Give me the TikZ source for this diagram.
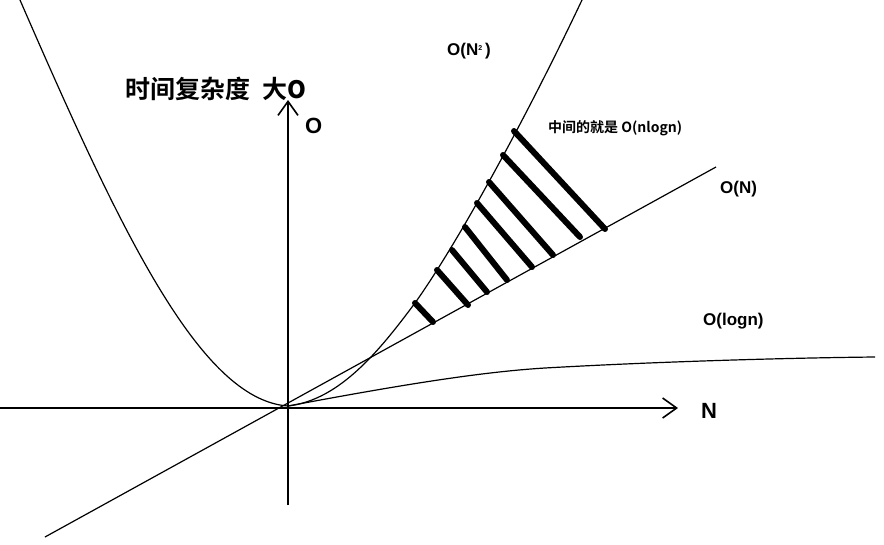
\documentclass[tikz,border=0pt]{standalone}
\usepackage{fontspec}
\setmainfont{Liberation Sans}
\newfontfamily\cjk{Noto Sans CJK SC Bold}
\usetikzlibrary{arrows.meta}
\begin{document}
\begin{tikzpicture}[x=1pt,y=-1pt,
  ax/.style={line width=1.6pt,-{Straight Barb[length=14pt,width=20pt,line width=1.6pt]}},
  cv/.style={line width=1.2pt},
  hatch/.style={line width=6pt,line cap=round},
  lbl/.style={font=\bfseries\fontsize{17}{19}\selectfont,inner sep=0pt}]
\useasboundingbox (0,0) rectangle (884,544);
\coordinate (o) at (288,406);
\coordinate (xl) at (0,408);
\coordinate (xr) at (678,408);
\coordinate (yb) at (288,505);
\coordinate (yt) at (288,100);
\draw[ax] (xl) -- (xr);
\draw[ax] (yb) -- (yt);
\coordinate (la) at (45,537);
\coordinate (lb) at (716,167);
\draw[cv] (la) -- (lb);
% parabola
\draw[cv] (20,0) .. controls (120,230) and (200,400) .. (288,406)
  .. controls (340,400) and (380,350) .. (415,303)
  .. controls (460,240) and (530,110) .. (582,0);
% log
\draw[cv] (o) .. controls (400,385) and (480,372) .. (545,368)
  .. controls (650,362) and (780,358) .. (875,357);
% hatches
\draw[hatch] (514,131) -- (605,229);
\draw[hatch] (503,155) -- (580,237);
\draw[hatch] (489,182) -- (553,255);
\draw[hatch] (477,203) -- (532,267);
\draw[hatch] (465,227) -- (507,280);
\draw[hatch] (452,250) -- (487,292);
\draw[hatch] (437,270) -- (468,305);
\draw[hatch] (415,303) -- (433,322);
% labels
\node[anchor=west,inner sep=0pt] (t1) at (125,89) {\cjk\fontsize{25}{27}\selectfont 时间复杂度\hspace{12pt}大\textbf{\fontsize{24}{26}\selectfont O}};
\node[lbl,anchor=west,font=\bfseries\fontsize{22}{24}\selectfont] (t2) at (305,126) {O};
\node[lbl,anchor=west] (t3) at (447,51) {O(N\raisebox{5pt}{\fontsize{7}{8}\selectfont 2}\,)};
\node[anchor=west,inner sep=0pt] (t4) at (548,128) {\cjk\fontsize{14}{16}\selectfont 中间的就是 O(nlogn)};
\node[lbl,anchor=west] (t5) at (720,189) {O(N)};
\node[lbl,anchor=west] (t6) at (703,321) {O(logn)};
\node[lbl,anchor=west,font=\bfseries\fontsize{22}{24}\selectfont] (t7) at (701,411) {N};
\end{tikzpicture}
\end{document}
